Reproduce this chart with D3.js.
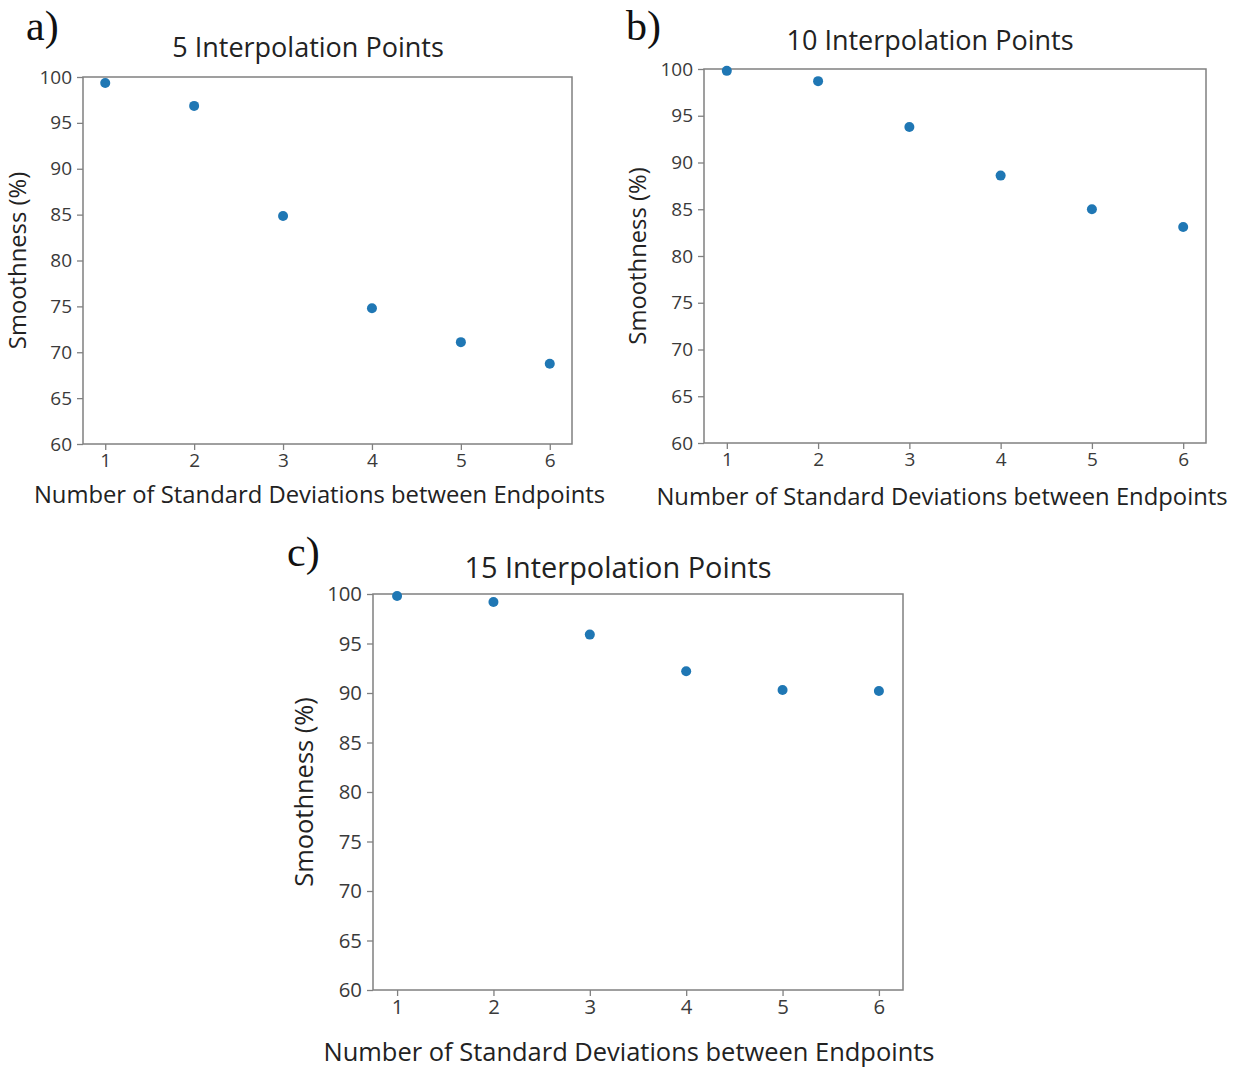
<!DOCTYPE html>
<html>
<head>
<meta charset="utf-8">
<script src="https://cdn.jsdelivr.net/npm/d3@7"></script>
<style>
  body { margin: 0; background: #fff; }
  svg { display: block; }
</style>
</head>
<body>
<svg id="chart" width="1239" height="1070"></svg>
<script>
// number of standard deviations between endpoints
const stdDevs = [1, 2, 3, 4, 5, 6];
// smoothness (%) per panel
const smooth5 = [99.35, 96.85, 84.85, 74.8, 71.1, 68.75];
const smooth10 = [99.8, 98.7, 93.8, 88.6, 85.0, 83.1];
const smooth15 = [99.8, 99.2, 95.9, 92.2, 90.3, 90.2];
const yTicks = [60, 65, 70, 75, 80, 85, 90, 95, 100];
const panelTitles = ["5 Interpolation Points", "10 Interpolation Points", "15 Interpolation Points"];
const panelLetters = ["a)", "b)", "c)"];

const xLabel = "Number of Standard Deviations between Endpoints";
const yLabel = "Smoothness (%)";
const font = "'Open Sans', 'Noto Sans', sans-serif";

// frame boxes of the three panels (the composite image has them at slightly different scales)
const panels = [
    {values: smooth5, left: 83, right: 572, top: 77, bottom: 444, s: 1,
     letterX: 26, letterY: 40, titleX: 308, titleY: 57, yLabX: 26, xLabDx: -8, xLabY: 503},
    {values: smooth10, left: 704, right: 1206, top: 69, bottom: 443, s: 1,
     letterX: 626, letterY: 40, titleX: 930, titleY: 50, yLabX: 646, xLabDx: -13, xLabY: 505},
    {values: smooth15, left: 373, right: 903, top: 594, bottom: 990, s: 1.07,
     letterX: 287, letterY: 566, titleX: 618, titleY: 578, yLabX: 313, xLabDx: -9, xLabY: 1061}
];

const svg = d3.select("#chart");

panels.forEach((p, i) => {
    const x = d3.scaleLinear().domain([0.75, 6.25]).range([p.left, p.right]);
    const y = d3.scaleLinear().domain([60, 100]).range([p.bottom, p.top]);
    const g = svg.append("g");

    g.append("rect")
        .attr("x", p.left).attr("y", p.top)
        .attr("width", p.right - p.left).attr("height", p.bottom - p.top)
        .attr("fill", "none").attr("stroke", "#808080").attr("stroke-width", 1.5);

    const xAxis = g.append("g")
        .attr("transform", `translate(0,${p.bottom})`)
        .call(d3.axisBottom(x).tickValues(stdDevs).tickFormat(d3.format("d")).tickSize(6).tickPadding(4).tickSizeOuter(0));
    const yAxis = g.append("g")
        .attr("transform", `translate(${p.left},0)`)
        .call(d3.axisLeft(y).tickValues(yTicks).tickSize(6).tickPadding(5).tickSizeOuter(0));
    [xAxis, yAxis].forEach(a => {
        a.select(".domain").remove();
        a.selectAll(".tick line").attr("stroke", "#808080").attr("stroke-width", 1.3);
        a.selectAll(".tick text")
            .attr("fill", "#3a3a3a")
            .style("font-family", font)
            .style("font-size", (19 * p.s) + "px");
    });

    g.selectAll("circle")
        .data(p.values)
        .enter()
        .append("circle")
        .attr("cx", (d, j) => x(stdDevs[j]))
        .attr("cy", d => y(d))
        .attr("r", 5)
        .attr("fill", "#1f77b4");

    g.append("text")
        .attr("x", p.letterX).attr("y", p.letterY)
        .style("font-family", "'Liberation Serif', 'DejaVu Serif', serif")
        .style("font-size", "42px").attr("fill", "#111")
        .text(panelLetters[i]);

    g.append("text")
        .attr("x", p.titleX).attr("y", p.titleY)
        .attr("text-anchor", "middle")
        .style("font-family", font).style("font-size", (27 * p.s) + "px").attr("fill", "#222")
        .text(panelTitles[i]);

    g.append("text")
        .attr("x", (p.left + p.right) / 2 + p.xLabDx).attr("y", p.xLabY)
        .attr("text-anchor", "middle")
        .style("font-family", font).style("font-size", (23.8 * p.s) + "px").attr("fill", "#222")
        .text(xLabel);

    g.append("text")
        .attr("transform", `translate(${p.yLabX},${(p.top + p.bottom) / 2}) rotate(-90)`)
        .attr("text-anchor", "middle")
        .style("font-family", font).style("font-size", (23.8 * p.s) + "px").attr("fill", "#222")
        .text(yLabel);
});
</script>
</body>
</html>
